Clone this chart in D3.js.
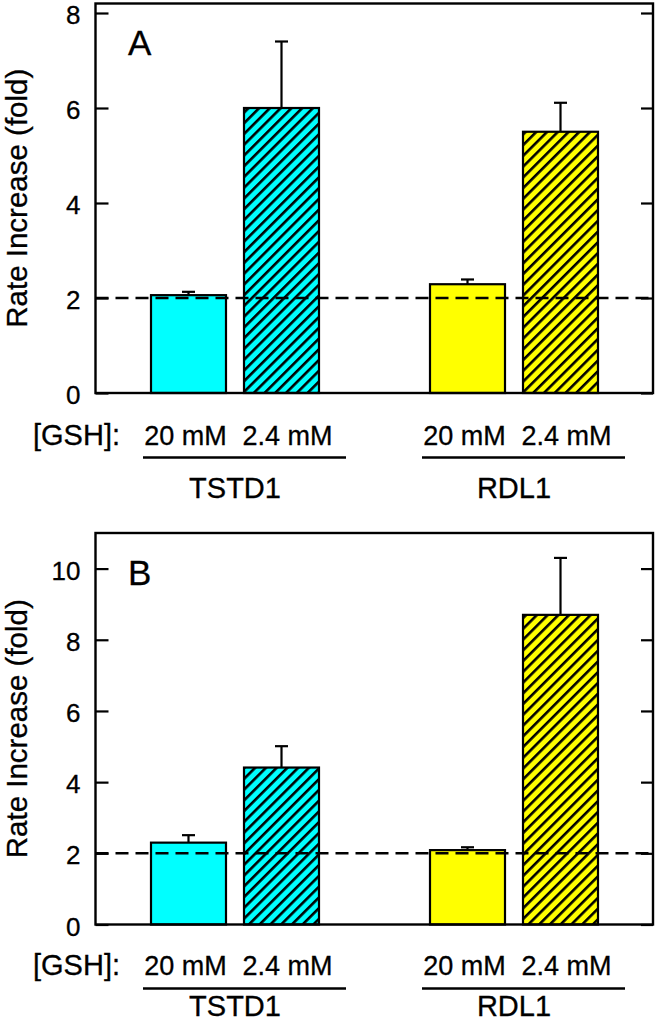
<!DOCTYPE html>
<html><head><meta charset="utf-8">
<script src="https://cdn.jsdelivr.net/npm/d3@7"></script>
<style>
html,body{margin:0;padding:0;background:#fff;}
svg{display:block;font-family:Arial,"Liberation Sans",Helvetica,sans-serif;}
svg text{stroke:#000;stroke-width:0.3px;fill:#000;}
</style></head>
<body>
<svg id="chart" width="657" height="1022"></svg>
<script>
// ---- data ----
const slots = ["TSTD1 20 mM", "TSTD1 2.4 mM", "gap", "RDL1 20 mM", "RDL1 2.4 mM"];
const barKeys = ["TSTD1 20 mM", "TSTD1 2.4 mM", "RDL1 20 mM", "RDL1 2.4 mM"];
const barEnzyme = ["TSTD1", "TSTD1", "RDL1", "RDL1"];
const barConc = ["20 mM", "2.4 mM", "20 mM", "2.4 mM"];
const barHatched = [false, true, false, true];
const groups = ["TSTD1", "RDL1"];
const panelLabels = ["A", "B"];
const valuesA = [2.06, 6.0, 2.29, 5.50];
const errorsA = [0.07, 1.40, 0.10, 0.61];
const valuesB = [2.30, 4.41, 2.09, 8.70];
const errorsB = [0.21, 0.60, 0.08, 1.60];
const ticksA = [0, 2, 4, 6, 8];
const ticksB = [0, 2, 4, 6, 8, 10];
const yMaxA = 8.2, yMaxB = 11;
const referenceLine = 2;
const yTitle = "Rate Increase (fold)";
const gshLabel = "[GSH]:";
const colorOf = {TSTD1: "#00FFFF", RDL1: "#FFFF00"};

const svg = d3.select("#chart");
const left = 95.5, right = 653;
const x = d3.scaleBand().domain(slots).range([142, 607]).paddingInner(18/93).paddingOuter(9/93);
const bw = x.bandwidth();

const defs = svg.append("defs");
["TSTD1","RDL1"].forEach(g => {
  const p = defs.append("pattern").attr("id", "hatch-" + g)
    .attr("patternUnits", "userSpaceOnUse").attr("width", 7.6).attr("height", 7.6)
    .attr("patternTransform", "rotate(45)");
  p.append("rect").attr("width", 7.6).attr("height", 7.6).attr("fill", colorOf[g]);
  p.append("line").attr("x1", 1.3).attr("y1", 0).attr("x2", 1.3).attr("y2", 7.6)
    .attr("stroke", "#000").attr("stroke-width", 2.6);
});

const panels = [
  {label: panelLabels[0], values: valuesA, errors: errorsA, ticks: ticksA, yMax: yMaxA, y0: 393, y1: 3.5,
   subBase: 444.5, lineY: 457.5, groupBase: 498},
  {label: panelLabels[1], values: valuesB, errors: errorsB, ticks: ticksB, yMax: yMaxB, y0: 924.5, y1: 533,
   subBase: 975, lineY: 988.5, groupBase: 1015.5}
];

panels.forEach(P => {
  const y = d3.scaleLinear().domain([0, P.yMax]).range([P.y0, P.y1]);
  const g = svg.append("g");

  // bars
  barKeys.forEach((k, i) => {
    const fill = barHatched[i] ? `url(#hatch-${barEnzyme[i]})` : colorOf[barEnzyme[i]];
    g.append("rect").attr("x", x(k)).attr("y", y(P.values[i]))
      .attr("width", bw).attr("height", y(0) - y(P.values[i]))
      .attr("fill", fill).attr("stroke", "#000").attr("stroke-width", 2.2);
    const cx = x(k) + bw / 2;
    g.append("line").attr("x1", cx).attr("x2", cx)
      .attr("y1", y(P.values[i])).attr("y2", y(P.values[i] + P.errors[i]))
      .attr("stroke", "#000").attr("stroke-width", 2.2);
    g.append("line").attr("x1", cx - 6.5).attr("x2", cx + 6.5)
      .attr("y1", y(P.values[i] + P.errors[i])).attr("y2", y(P.values[i] + P.errors[i]))
      .attr("stroke", "#000").attr("stroke-width", 2.2);
  });

  // reference dashed line
  g.append("line").attr("x1", left).attr("x2", right)
    .attr("y1", y(referenceLine)).attr("y2", y(referenceLine))
    .attr("stroke", "#000").attr("stroke-width", 2.6).attr("stroke-dasharray", "13,7");

  // axes
  const ay = g.append("g").attr("transform", `translate(${left},0)`)
    .call(d3.axisLeft(y).tickValues(P.ticks).tickSize(-13).tickPadding(15).tickFormat(d3.format("d")));
  ay.select(".domain").remove();
  ay.selectAll(".tick line").attr("stroke", "#000").attr("stroke-width", 2.2);
  ay.selectAll(".tick text").attr("font-size", 26).attr("fill", "#000").attr("dy", "0.41em")
    .attr("font-family", "Arial, 'Liberation Sans', sans-serif");
  const ar = g.append("g").attr("transform", `translate(${right},0)`)
    .call(d3.axisRight(y).tickValues(P.ticks).tickSize(-12).tickFormat(""));
  ar.select(".domain").remove();
  ar.selectAll(".tick line").attr("stroke", "#000").attr("stroke-width", 2.2);

  // frame
  g.append("rect").attr("x", left).attr("y", y(P.yMax)).attr("width", right - left)
    .attr("height", y(0) - y(P.yMax)).attr("fill", "none").attr("stroke", "#000").attr("stroke-width", 2.4);

  // panel letter
  g.append("text").attr("x", 128).attr("y", y(P.yMax) + 51.5).attr("font-size", 35).text(P.label);

  // y title
  g.append("text").attr("transform", `translate(27,${(y(0) + y(P.yMax)) / 2}) rotate(-90)`)
    .attr("text-anchor", "middle").attr("font-size", 29.5).text(yTitle);

  // bottom labels
  g.append("text").attr("x", 33).attr("y", P.subBase).attr("font-size", 29).text(gshLabel);
  barKeys.forEach((k, i) => {
    const cx = x(k) + bw / 2 + (barConc[i] === "20 mM" ? -3 : 6);
    g.append("text").attr("x", cx).attr("y", P.subBase).attr("text-anchor", "middle")
      .attr("font-size", 27).text(barConc[i]);
  });
  groups.forEach(gr => {
    const a = x(gr + " 20 mM"), b = x(gr + " 2.4 mM") + bw;
    g.append("line").attr("x1", a - 8).attr("x2", b + 27).attr("y1", P.lineY).attr("y2", P.lineY)
      .attr("stroke", "#000").attr("stroke-width", 2.6);
    g.append("text").attr("x", (a + b) / 2).attr("y", P.groupBase).attr("text-anchor", "middle")
      .attr("font-size", 29).text(gr);
  });
});
</script>
</body></html>
